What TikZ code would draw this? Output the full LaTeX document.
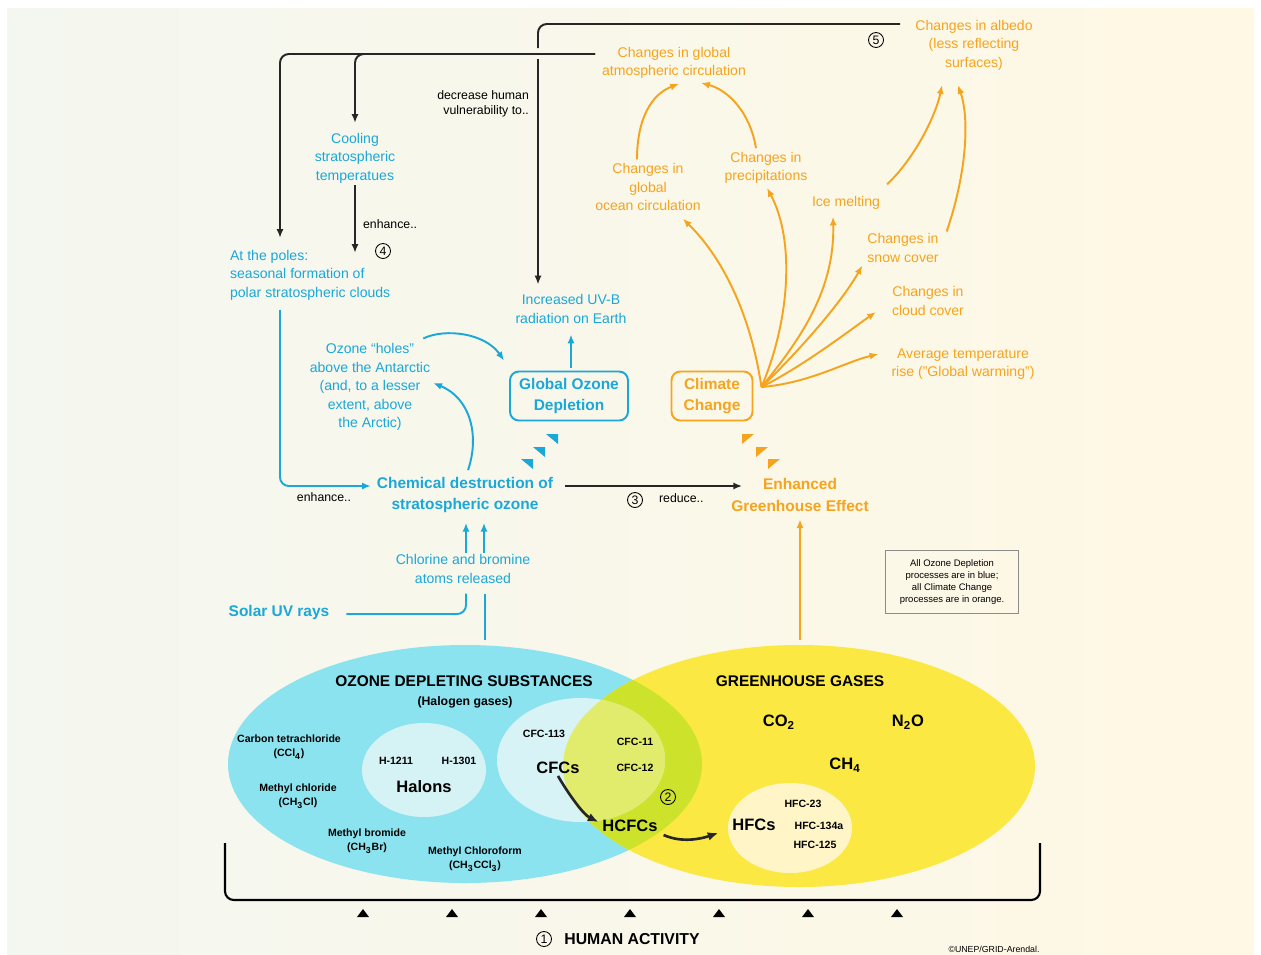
\documentclass[tikz,border=0pt]{standalone}
\usepackage{fontspec}
\setmainfont{Liberation Sans}
\usetikzlibrary{arrows.meta,calc}
\definecolor{ozoneblue}{HTML}{1AA8D8}
\definecolor{climorange}{HTML}{F6A31E}
\definecolor{odsfill}{HTML}{8BE3EF}
\definecolor{ghgfill}{HTML}{FBE843}
\definecolor{mixfill}{HTML}{CDE32B}
\definecolor{halonfill}{HTML}{D5F2F5}
\definecolor{cfcfill}{HTML}{D8F3F6}
\definecolor{cfcmix}{HTML}{E2EC6C}
\definecolor{hfcfill}{HTML}{FFF5C6}
\definecolor{bgleft}{HTML}{F4F7F0}
\definecolor{bgright}{HTML}{FFF8E4}
\begin{document}
\begin{tikzpicture}[x=0.02cm, y=-0.02cm]
    % Stili
    \tikzstyle{ozone}=[text=ozoneblue, align=center, inner sep=1pt, font=\fontsize{8}{10.5}\selectfont]
    \tikzstyle{ozonebold}=[ozone, font=\bfseries\fontsize{8.8}{12}\selectfont]
    \tikzstyle{ozonebox}=[ozonebold, draw=ozoneblue, line width=1.1pt, rounded corners=5pt, minimum width=2.36cm, minimum height=0.98cm]
    \tikzstyle{climate}=[text=climorange, align=center, inner sep=1pt, font=\fontsize{8}{10.5}\selectfont]
    \tikzstyle{climatebold}=[climate, font=\bfseries\fontsize{8.8}{12}\selectfont]
    \tikzstyle{climatebox}=[climatebold, draw=climorange, line width=1.1pt, rounded corners=5pt, minimum width=1.62cm, minimum height=0.98cm]
    \tikzstyle{note}=[text=black, align=center, inner sep=1pt, font=\fontsize{7}{8.8}\selectfont]
    \tikzstyle{num}=[circle, draw, line width=0.5pt, inner sep=0pt, minimum size=0.3cm, font=\fontsize{7}{7}\selectfont]
    \tikzstyle{gas}=[align=center, inner sep=1pt, font=\bfseries\fontsize{6}{8.3}\selectfont]
    \tikzstyle{gasgroup}=[inner sep=1pt, font=\bfseries\fontsize{9.4}{11}\selectfont]
    \tikzstyle{setname}=[inner sep=1pt, font=\bfseries\fontsize{8.8}{11}\selectfont]
    \tikzstyle{blackline}=[line width=1.1pt, black!85]
    \tikzstyle{blackarrow}=[blackline, -{Latex[length=5pt,width=4pt]}]
    \tikzstyle{blueline}=[line width=1.1pt, ozoneblue]
    \tikzstyle{bluearrow}=[blueline, -{Latex[length=5pt,width=4pt]}]
    \tikzstyle{orangearrow}=[line width=1.1pt, climorange, -{Latex[length=5pt,width=4pt]}]

    % Sfondo
    \useasboundingbox (0,0) rectangle (1261,954);
    \fill[white] (0,0) rectangle (1261,954);
    \shade[left color=bgleft, right color=bgright] (7,8) rectangle (1254,954);

    % Insiemi di gas
    \fill[odsfill] (465,764) ellipse (237 and 119);
    \fill[ghgfill] (799,766) ellipse (236 and 121);
    \begin{scope}
        \clip (465,764) ellipse (237 and 119);
        \fill[mixfill] (799,766) ellipse (236 and 121);
    \end{scope}
    \fill[halonfill] (424,770) ellipse (62 and 47);
    \fill[cfcfill] (581,760) ellipse (84 and 62);
    \begin{scope}
        \clip (799,766) ellipse (236 and 121);
        \fill[cfcmix] (581,760) ellipse (84 and 62);
    \end{scope}
    \fill[hfcfill] (790,828) ellipse (62 and 45);

    % Sostanze che riducono l'ozono
    \node[setname] (odsname) at (464,681) {OZONE DEPLETING SUBSTANCES};
    \node[gas, font=\bfseries\fontsize{7}{8}\selectfont] (halogen) at (465,702) {(Halogen gases)};
    \node[gas] (ccl4) at (289,747) {Carbon tetrachloride\\(CCl\textsubscript{4})};
    \node[gas] (ch3cl) at (298,796) {Methyl chloride\\(CH\textsubscript{3}Cl)};
    \node[gas] (ch3br) at (367,841) {Methyl bromide\\(CH\textsubscript{3}Br)};
    \node[gas] (ch3ccl3) at (475,859) {Methyl Chloroform\\(CH\textsubscript{3}CCl\textsubscript{3})};
    \node[gas] (h1211) at (396,761) {H-1211};
    \node[gas] (h1301) at (459,761) {H-1301};
    \node[gasgroup] (halons) at (424,787) {Halons};
    \node[gas] (cfc113) at (544,734) {CFC-113};
    \node[gasgroup] (cfcs) at (558,768) {CFCs};
    \node[gas] (cfc11) at (635,742) {CFC-11};
    \node[gas] (cfc12) at (635,768) {CFC-12};
    \node[gasgroup] (hcfcs) at (630,826) {HCFCs};
    \node[num] (n2) at (668,797) {2};

    % Gas serra
    \node[setname] (ghgname) at (800,681) {GREENHOUSE GASES};
    \node[gasgroup] (co2) at (779,722) {CO\textsubscript{2}};
    \node[gasgroup] (n2o) at (908,722) {N\textsubscript{2}O};
    \node[gasgroup] (ch4) at (845,765) {CH\textsubscript{4}};
    \node[gasgroup] (hfcs) at (754,825) {HFCs};
    \node[gas] (hfc23) at (803,804) {HFC-23};
    \node[gas] (hfc134a) at (819,826) {HFC-134a};
    \node[gas] (hfc125) at (815,845) {HFC-125};

    \draw[blackline, line width=1.5pt, -{Latex[length=6pt,width=5pt]}] (cfcs.south) .. controls +(8,14) and +(-16,-8) .. ($(hcfcs.west)+(-2,-4)$);
    \draw[blackline, line width=1.5pt, -{Latex[length=6pt,width=5pt]}] ($(hcfcs.east)+(4,9)$) .. controls +(18,8) and +(-18,6) .. ($(hfcs.west)+(-12,8)$);

    % Attivita' umana
    \draw[line width=1.2pt, rounded corners=5pt] (225,843) |- (1040,900) -- (1040,843);
    \foreach \tx in {363,452,...,897}
        \fill (\tx-6,917) -- (\tx+6,917) -- (\tx,909) -- cycle;
    \node[num] (n1) at (544,939) {1};
    \node[gasgroup, font=\bfseries\fontsize{9}{10}\selectfont] (human) at (632,939) {HUMAN ACTIVITY};
    \node[inner sep=0pt, font=\fontsize{5}{6}\selectfont] (credit) at (994,949) {©UNEP/GRID-Arendal.};

    % Processi dell'ozono (blu)
    \node[ozone] (cooling) at (355,158) {Cooling\\stratospheric\\temperatues};
    \node[ozone, anchor=west, align=left] (poles) at (228,275) {At the poles:\\seasonal formation of\\polar stratospheric clouds};
    \node[ozone] (uvb) at (571,309) {Increased UV-B\\radiation on Earth};
    \node[ozone] (holes) at (370,387) {Ozone “holes”\\above the Antarctic\\(and, to a lesser\\extent, above\\the Arctic)};
    \node[ozonebox] (god) at (569,396) {Global Ozone\\Depletion};
    \node[ozonebold] (chem) at (465,495) {Chemical destruction of\\stratospheric ozone};
    \node[ozone] (chlorine) at (463,569) {Chlorine and bromine\\atoms released};
    \node[ozonebold] (solar) at (279,612) {Solar UV rays};

    % Processi del clima (arancione)
    \node[climate] (atm) at (674,63) {Changes in global\\atmospheric circulation};
    \node[climate] (albedo) at (974,45) {Changes in albedo\\(less reflecting\\surfaces)};
    \node[climate] (ocean) at (648,187) {Changes in\\global\\ocean circulation};
    \node[climate] (precip) at (766,168) {Changes in\\precipitations};
    \node[climate] (ice) at (846,203) {Ice melting};
    \node[climate] (snow) at (903,248) {Changes in\\snow cover};
    \node[climate] (cloud) at (928,301) {Changes in\\cloud cover};
    \node[climate] (avg) at (963,364) {Average temperature\\rise ("Global warming")};
    \node[climatebox] (cc) at (712,396) {Climate\\Change};
    \node[climatebold] (ghe) at (800,495) {Enhanced\\Greenhouse Effect};

    % Etichette
    \node[note, anchor=east, align=right] (decrease) at (531,104) {decrease human\\vulnerability to..};
    \node[note, anchor=west] (enhance1) at (361,224) {enhance..};
    \node[num] (n4) at (383,251) {4};
    \node[note] (enhance2) at (324,497) {enhance..};
    \node[num] (n3) at (635,500) {3};
    \node[note, anchor=west] (reduce) at (657,498) {reduce..};
    \node[num] (n5) at (876,40) {5};
    \node[draw=black!45, line width=0.5pt, align=center, inner sep=1pt, minimum width=2.66cm, minimum height=1.26cm, font=\fontsize{5.4}{7}\selectfont] (legend) at (952,582) {All Ozone Depletion\\processes are in blue;\\all Climate Change\\processes are in orange.};

    % Frecce nere
    \coordinate (albedoL) at (900,24);
    \coordinate (gapTop) at (538,48);
    \coordinate (gapBottom) at (538,59);
    \coordinate (atmL) at (595,54);
    \draw[blackline, rounded corners=5pt] (albedoL) -| (gapTop);
    \draw[blackarrow] (gapBottom) -- ($(gapBottom |- uvb.north)+(0,-8)$);
    \draw[blackarrow, rounded corners=5pt] (atmL) -| ($(cooling.north)+(0,-8)$);
    \draw[blackarrow, rounded corners=5pt] (atmL) -| ($(poles.north west)+(52,-10)$);
    \draw[blackarrow] (cooling.south) -- ($(cooling.south |- poles.north)+(0,5)$);
    \draw[blackarrow] ($(chem.east)+(10,-9)$) -- ($(ghe.west)+(13,-9)$);

    % Frecce blu
    \draw[bluearrow, rounded corners=5pt] ($(poles.south west)+(52,8)$) |- ($(chem.west)+(-4,-9)$);
    \draw[bluearrow] ($(chem.north)+(3,-5)$) .. controls (480,435) and (470,398) .. ($(holes.east)+(1,-4)$);
    \draw[bluearrow] ($(holes.north east)+(-9,-3)$) .. controls (445,328) and (485,333) .. ($(god.north west)+(-5,-10)$);
    \draw[bluearrow] ($(god.north)+(2,-3)$) -- ($(uvb.south)+(0,9)$);
    \draw[bluearrow] ($(chlorine.north)+(3,0)$) -- ($(chem.south)+(1,8)$);
    \draw[bluearrow] ($(chlorine.north)+(21,0)$) -- ($(chem.south)+(19,8)$);
    \draw[blueline, rounded corners=5pt] ($(solar.east)+(15,2)$) -| ($(chlorine.south)+(3,8)$);
    \coordinate (odsTop) at (485,640);
    \draw[blueline] (odsTop) -- ($(chlorine.south)+(22,8)$);
    \foreach \cx/\cy in {552/439, 539/452, 527/464}
        \fill[ozoneblue] (\cx-6,\cy-5) -- (\cx+6,\cy-5) -- (\cx+6,\cy+5) -- cycle;

    % Frecce arancioni
    \coordinate (fan) at ($(cc.east)+(8,-9)$);
    \draw[orangearrow] (fan) .. controls (750,310) and (720,255) .. ($(ocean.south east)+(-20,6)$);
    \draw[orangearrow] (fan) .. controls (790,320) and (795,240) .. ($(precip.south)+(1,2)$);
    \draw[orangearrow] (fan) .. controls (800,340) and (835,290) .. ($(ice.south)+(-13,5)$);
    \draw[orangearrow] (fan) .. controls (795,355) and (840,305) .. ($(snow.south west)+(-3,1)$);
    \draw[orangearrow] (fan) .. controls (805,365) and (850,330) .. ($(cloud.west)+(-14,11)$);
    \draw[orangearrow] (fan) .. controls (810,383) and (845,362) .. ($(avg.west)+(-11,-10)$);
    \draw[orangearrow] ($(ocean.north)+(-11,-2)$) .. controls (637,118) and (652,94) .. ($(atm.south)+(5,3)$);
    \draw[orangearrow] ($(precip.north)+(-10,-2)$) .. controls (750,112) and (728,90) .. ($(atm.south)+(27,2)$);
    \draw[orangearrow] ($(ice.north east)+(5,-10)$) .. controls (915,158) and (936,115) .. ($(albedo.south)+(-32,13)$);
    \draw[orangearrow] ($(snow.north east)+(6,0)$) .. controls (966,175) and (970,120) .. ($(albedo.south)+(-16,13)$);
    \coordinate (ghgTop) at (800,640);
    \draw[orangearrow] (ghgTop) -- ($(ghe.south)+(0,6)$);
    \foreach \cx/\cy in {748/439, 762/452, 774/464}
        \fill[climorange] (\cx-6,\cy-5) -- (\cx+6,\cy-5) -- (\cx-6,\cy+5) -- cycle;
\end{tikzpicture}
\end{document}
